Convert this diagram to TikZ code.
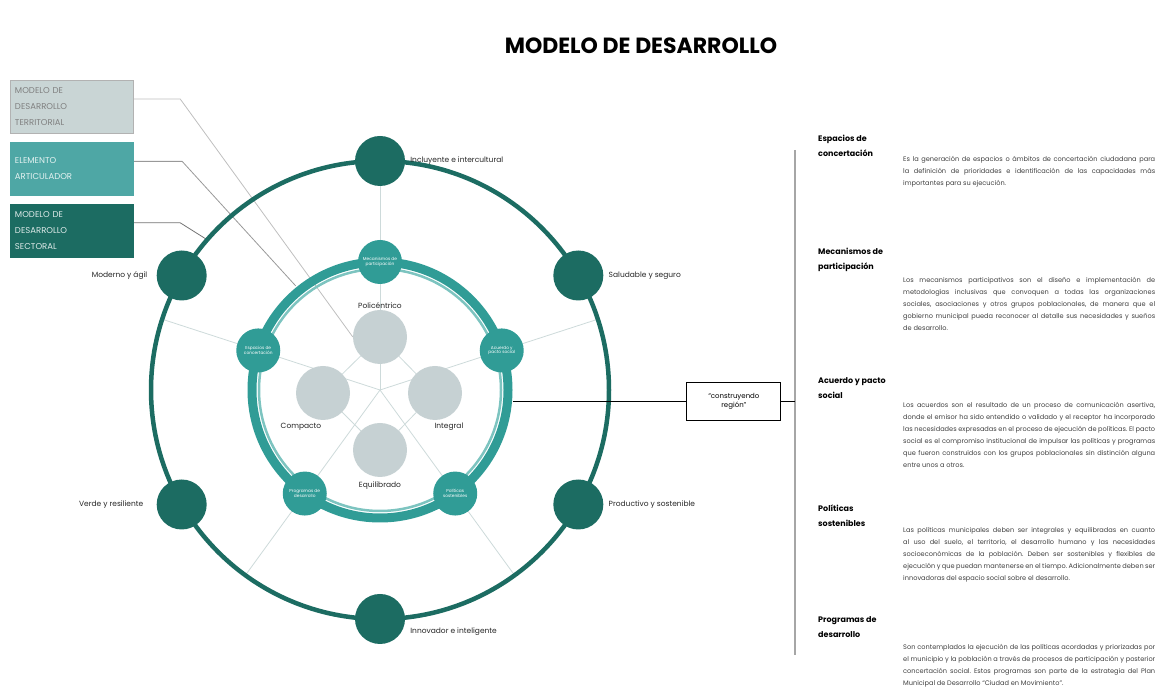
\documentclass[tikz,border=0pt]{standalone}
\usepackage{fontspec}
\setmainfont{Poppins}
\usetikzlibrary{positioning,calc}
\pgfdeclarelayer{background}
\pgfsetlayers{background,main}
\definecolor{tealdark}{RGB}{28,108,98}
\definecolor{tealmid}{RGB}{48,156,150}
\definecolor{teallight}{RGB}{125,196,192}
\definecolor{greycirc}{RGB}{198,209,211}
\definecolor{boxgrey}{RGB}{201,213,213}
\definecolor{boxteal}{RGB}{78,167,165}
\definecolor{spoke}{RGB}{205,218,218}
\hyphenpenalty=10000
\exhyphenpenalty=10000
\frenchspacing

\begin{document}
\begin{tikzpicture}[x=1pt,y=1pt,
  outernode/.style={circle,fill=tealdark,minimum size=50pt,inner sep=0pt},
  innernode/.style={circle,fill=tealmid,minimum size=44pt,inner sep=0pt,text=white,
    font=\fontsize{4.3}{4.9}\selectfont,align=center},
  greynode/.style={circle,fill=greycirc,minimum size=54pt,inner sep=0pt},
  outerlabel/.style={font=\fontsize{7.5}{9}\selectfont,text=black!85,inner sep=1pt},
  legbox/.style={draw,minimum width=123pt,minimum height=53pt,inner sep=0pt,
    text width=113pt,align=left,font=\fontsize{8.5}{16}\selectfont},
  legline/.style={line width=0.8pt},
  spokeline/.style={draw=spoke,line width=0.8pt},
  heading/.style={anchor=north west,font=\fontsize{8}{15}\selectfont\bfseries,
    align=left,inner sep=0pt},
  para/.style={anchor=north west,text width=252pt,align=justify,inner sep=0pt,
    font=\fontsize{6.6}{12}\selectfont,text=black!75}]
\useasboundingbox (0,0) rectangle (1163,698);
\coordinate (c) at (380,308);

% titulo
\node[font=\fontsize{22}{22}\selectfont\bfseries] (titulo) at (641,652) {MODELO DE DESARROLLO};

% anillos
\draw[tealdark,line width=4.5pt] (c) circle (229);
\draw[tealmid,line width=9pt] (c) circle (128);
\draw[teallight,line width=2.5pt] (c) circle (121);

% circulos grises
\node[greynode] (g1) at ($(c)+(0,53)$) {};
\node[greynode] (g2) at ($(c)+(55,-3)$) {};
\node[greynode] (g3) at ($(c)+(0,-60)$) {};
\node[greynode] (g4) at ($(c)+(-57,-3)$) {};
\node[outerlabel,above=0pt of g1] {Policéntrico};
\node[outerlabel] at ($(g2)+(14,-34)$) {Integral};
\node[outerlabel,below=3pt of g3] {Equilibrado};
\node[outerlabel] at ($(g4)+(-22,-34)$) {Compacto};

% elementos articuladores
\foreach \a/\n/\t in {90/i1/{Mecanismos de\\participación},18/i2/{Acuerdo y\\pacto social},
    -54/i3/{Políticas\\sostenibles},234/i4/{Programas de\\desarrollo},162/i5/{Espacios de\\concertación}}
  \node[innernode] (\n) at ($(c)+(\a:128)$) {\t};

% modelo sectorial
\foreach \a/\n in {90/o1,30/o2,-30/o3,-90/o4,210/o5,150/o6}
  \node[outernode] (\n) at ($(c)+(\a:229)$) {};
\node[outerlabel,right=4pt of o1] {Incluyente e intercultural};
\node[outerlabel,right=4pt of o2] {Saludable y seguro};
\node[outerlabel,right=4pt of o3] {Productivo y sostenible};
\node[outerlabel,right=4pt of o4,yshift=-13pt] {Innovador e inteligente};
\node[outerlabel,left=12pt of o5] {Verde y resiliente};
\node[outerlabel,left=8pt of o6] {Moderno y ágil};

% leyenda
\node[legbox,fill=boxgrey,draw=black!30,text=black!50] (lg1) at (71.5,591.5) {MODELO DE\\DESARROLLO\\TERRITORIAL};
\node[legbox,fill=boxteal,draw=boxteal,text=white!85!boxteal,below=9pt of lg1] (lg2) {ELEMENTO\\ARTICULADOR};
\node[legbox,fill=tealdark,draw=tealdark,text=white!85!tealdark,below=8pt of lg2] (lg3) {MODELO DE\\DESARROLLO\\SECTORAL};

\begin{pgfonlayer}{background}
\foreach \a in {90,18,-54,234,162}
  \draw[spokeline] (c) -- ($(c)+(\a:229)$);
\draw[spokeline] (g1) -- (g2) -- (g3) -- (g4) -- (g1);
\draw[legline,black!25] ($(lg1.east)+(0,7.5)$) -- ++(47,0) -- (g1.west);
\draw[legline,black!40] ($(lg2.east)+(0,7.5)$) -- ++(49,0) -- ($(c)+(129:134)$);
\draw[legline,black!55] ($(lg3.east)+(0,7.5)$) -- ++(47,0) -- ($(c)+(139:229)$);
\end{pgfonlayer}

% lema y columna derecha
\coordinate (rp) at ($(c)+(-5:134)$);
\node[draw,line width=0.8pt,minimum width=94pt,minimum height=38pt,align=center,
  font=\fontsize{7}{9}\selectfont,right=173pt of rp] (lema) {“construyendo\\región”};
\coordinate (vtop) at (795,548);
\coordinate (vbot) at (795,43);
\draw[line width=2.5pt,black!35] (vtop) -- (vbot);
\draw[line width=0.8pt] (rp) -- (lema.west);
\draw[line width=0.8pt] (lema.east) -- (lema.east -| vtop);

\node[heading] (h1) at (818,563) {Espacios de\\concertación};
\node[heading] (h2) at (818,450) {Mecanismos de\\participación};
\node[heading] (h3) at (818,321) {Acuerdo y pacto\\social};
\node[heading] (h4) at (818,193) {Políticas\\sostenibles};
\node[heading] (h5) at (818,82) {Programas de\\desarrollo};

\node[para] (p1) at (903,542) {Es la generación de espacios o ámbitos de concertación ciudadana para la definición de prioridades e identificación de las capacidades más importantes para su ejecución.};
\node[para] (p2) at (903,421) {Los mecanismos participativos son el diseño e implementación de metodologías inclusivas que convoquen a todas las organizaciones sociales, asociaciones y otros grupos poblacionales, de manera que el gobierno municipal pueda reconocer al detalle sus necesidades y sueños de desarrollo.};
\node[para] (p3) at (903,296) {Los acuerdos son el resultado de un proceso de comunicación asertiva, donde el emisor ha sido entendido o validado y el receptor ha incorporado las necesidades expresadas en el proceso de ejecución de políticas. El pacto social es el compromiso institucional de impulsar las políticas y programas que fueron construidos con los grupos poblacionales sin distinción alguna entre unos a otros.};
\node[para] (p4) at (903,171) {Las políticas municipales deben ser integrales y equilibradas en cuanto al uso del suelo, el territorio, el desarrollo humano y las necesidades socioeconómicas de la población. Deben ser sostenibles y flexibles de ejecución y que puedan mantenerse en el tiempo. Adicionalmente deben ser innovadoras del espacio social sobre el desarrollo.};
\node[para] (p5) at (903,54) {Son contemplados la ejecución de las políticas acordadas y priorizadas por el municipio y la población a través de procesos de participación y posterior concertación social. Estos programas son parte de la estrategia del Plan Municipal de Desarrollo “Ciudad en Movimiento”.};
\end{tikzpicture}
\end{document}
